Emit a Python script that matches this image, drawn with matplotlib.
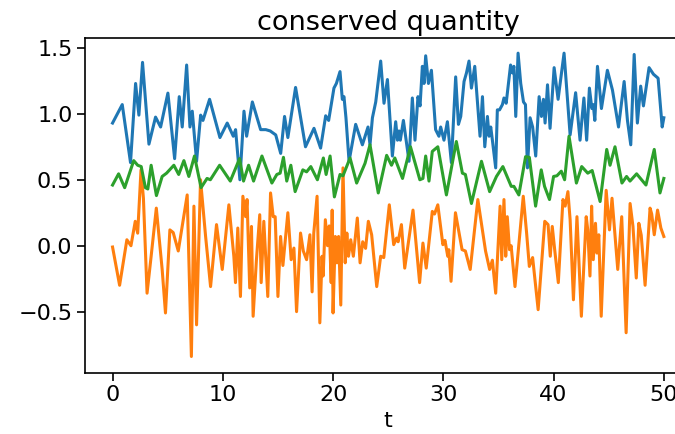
import matplotlib
matplotlib.use("Agg")
import matplotlib.pyplot as plt

# blue series (C0) at its turning points
t_blue = [0, 0.88, 1.63, 2.09, 2.39, 2.72, 3.3, 3.9, 4.36, 5.02, 5.63, 6.05, 6.32, 6.72,
          7.02, 7.23, 7.62, 7.99, 8.2, 8.8, 9.74, 10.4, 10.95, 11.16, 11.55, 11.92, 12.16,
          12.68, 13.43, 13.9, 14.3, 14.8, 15.25, 15.6, 15.9, 16.6, 17.5, 18.27, 18.87,
          19.33, 19.6, 20.08, 20.3, 20.63, 20.84, 20.99, 21.17, 21.45, 22.05, 22.66, 23.17,
          23.35, 23.57, 23.87, 24.32, 24.62, 24.93, 25.38, 25.68, 25.84, 25.98, 26.1, 26.38,
          26.89, 27.19, 27.43, 27.7, 27.89, 28.1, 28.25, 28.4, 28.65, 28.92, 29.3, 29.6,
          29.76, 30.06, 30.37, 30.73, 31.12, 31.37, 31.58, 31.88, 32.1, 32.33, 32.55, 32.85,
          33.33, 33.55, 33.76, 34.0, 34.15, 34.3, 34.45, 34.75, 34.9, 35.1, 35.36, 35.5,
          35.7, 36.1, 36.27, 36.4, 36.57, 36.78, 37.02, 37.27, 37.45, 37.63, 37.87, 38.1,
          38.38, 38.69, 38.9, 39.08, 39.23, 39.45, 39.68, 40.05, 40.41, 40.95, 41.5, 42.0,
          42.4, 42.75, 43.0, 43.25, 43.47, 43.6, 43.74, 43.98, 44.34, 44.88, 45.34, 45.89,
          46.4, 46.7, 47.0, 47.31, 47.6, 47.9, 48.15, 48.66, 49.06, 49.48, 49.85, 50.0]
blue = [0.93, 1.07, 0.63, 1.23, 0.99, 1.39, 0.77, 0.975, 0.90, 1.157, 0.66, 1.13, 0.90, 1.37,
        0.90, 1.02, 0.64, 0.99, 0.95, 1.11, 0.82, 0.93, 0.83, 0.88, 0.50, 1.02, 0.83,
        1.09, 0.88, 0.88, 0.87, 0.84, 0.70, 0.98, 0.82, 1.20, 0.75, 0.89, 0.74,
        0.985, 0.95, 1.195, 1.23, 1.32, 1.11, 1.13, 0.97, 0.64, 0.92, 0.765, 0.90,
        0.765, 0.97, 1.09, 1.40, 1.08, 1.26, 0.68, 0.94, 0.80, 0.87, 0.80, 0.95,
        0.64, 1.12, 0.80, 1.13, 1.06, 1.36, 1.23, 1.44, 1.23, 1.33, 0.88, 0.83,
        0.90, 0.80, 0.94, 0.63, 1.28, 0.92, 0.98, 1.245, 1.31, 1.40, 1.195, 1.36,
        0.83, 1.13, 0.75, 0.98, 0.83, 0.90, 0.80, 0.59, 1.03, 1.03, 1.07, 1.12,
        1.08, 1.37, 1.31, 1.36, 0.98, 1.46, 1.23, 1.09, 1.07, 0.59, 0.97, 0.90,
        0.68, 1.13, 0.98, 1.11, 0.93, 1.22, 0.89, 1.35, 1.11, 1.46, 0.84, 1.16,
        0.80, 1.12, 0.80, 1.195, 1.04, 1.07, 0.95, 1.36, 1.04, 1.33, 1.18, 0.90,
        1.245, 0.95, 0.765, 1.45, 0.93, 1.21, 1.06, 1.35, 1.30, 1.27, 0.90, 0.97]

# orange series (C1)
t_orange = [0, 0.64, 1.3, 1.67, 2.06, 2.28, 2.58, 2.8, 3.13, 3.5, 3.97, 4.5, 4.8, 5.2, 5.5,
            5.96, 6.77, 7.15, 7.38, 7.62, 7.98, 8.44, 8.89, 9.43, 9.95, 10.55, 11.0, 11.15,
            11.36, 11.6, 11.82, 12.07, 12.2, 12.44, 12.6, 12.75, 13.05, 13.35, 13.48, 13.72,
            14.08, 14.33, 14.57, 14.75, 15.0, 15.24, 15.45, 15.9, 16.2, 16.45, 16.69, 17.05,
            17.3, 17.6, 17.9, 18.1, 18.25, 18.55, 18.8, 19.0, 19.1, 19.3, 19.5, 19.65, 19.83,
            19.92, 20.0, 20.2, 20.35, 20.5, 20.7, 20.9, 21.1, 21.25, 21.4, 21.6, 21.84, 22.2,
            22.45, 22.69, 22.95, 23.2, 23.5, 23.96, 24.32, 24.6, 25.1, 25.5, 25.76, 25.9,
            26.2, 26.5, 27.25, 27.85, 28.15, 28.45, 29.0, 29.2, 29.5, 29.96, 30.15, 30.4,
            30.5, 30.7, 31.1, 31.7, 32.0, 32.44, 33.13, 33.83, 34.2, 34.45, 34.75, 35.15,
            35.3, 35.5, 35.66, 35.8, 36.0, 36.15, 36.5, 37.25, 37.55, 37.8, 38.1, 38.6, 39.2,
            39.5, 39.7, 39.88, 40.1, 40.43, 40.85, 41.05, 41.3, 41.5, 41.8, 42.12, 42.52,
            42.96, 43.1, 43.3, 43.45, 43.6, 43.8, 43.93, 44.1, 44.32, 44.77, 45.07, 45.3,
            45.82, 46.18, 46.58, 46.94, 47.2, 47.5, 47.73, 47.95, 48.3, 48.75, 48.9, 49.13,
            49.43, 49.73, 50.0]
orange = [-0.01, -0.30, 0.045, 0.0, 0.185, 0.095, 0.575, 0.36, -0.36, -0.08, 0.285, -0.18,
          -0.51, 0.12, 0.10, -0.04, 0.385, -0.84, 0.30, -0.60, 0.50, 0.07, -0.31, 0.16,
          -0.18, 0.31, -0.08, -0.28, 0.134, -0.385, 0.375, 0.22, 0.35, -0.32, 0.146, -0.535,
          -0.106, 0.235, -0.28, 0.185, -0.385, 0.40, 0.22, 0.22, -0.385, 0.07, -0.15, 0.25,
          -0.106, -0.018, -0.50, 0.096, -0.04, -0.106, 0.083, -0.35, 0.096, 0.375, -0.585,
          -0.08, -0.23, 0.197, 0.0, 0.15, -0.28, 0.27, -0.51, 0.07, -0.13, 0.07, -0.45, 0.59,
          -0.13, 0.096, -0.08, 0.045, -0.08, 0.21, -0.13, 0.03, -0.02, 0.185, 0.083, -0.31,
          -0.08, -0.09, 0.31, 0.008, 0.058, 0.03, 0.16, -0.17, 0.27, -0.28, 0.02, -0.17,
          0.26, 0.24, 0.31, 0.008, 0.04, -0.08, -0.03, -0.27, 0.25, -0.03, -0.04, -0.18,
          0.35, -0.04, -0.18, -0.11, -0.36, 0.30, -0.106, 0.35, -0.08, 0.22, -0.03, 0.0,
          -0.31, 0.375, 0.10, -0.157, -0.09, -0.485, 0.185, 0.16, -0.08, 0.146, -0.03,
          -0.28, 0.35, 0.30, 0.41, 0.197, -0.41, 0.22, -0.535, 0.22, 0.12, -0.23, 0.30,
          -0.106, 0.17, -0.056, 0.083, -0.535, 0.42, 0.12, 0.36, -0.18, 0.22, -0.66, 0.32,
          0.146, -0.245, 0.17, 0.08, -0.30, 0.285, 0.24, 0.083, 0.27, 0.134, 0.07]

# green series (C2)
t_green = [0, 0.55, 1.1, 1.92, 2.28, 2.6, 2.98, 3.2, 3.5, 3.98, 4.5, 4.9, 5.56, 6.0, 6.47,
           6.92, 7.43, 8.03, 8.57, 8.87, 9.71, 10.68, 11.52, 11.88, 12.34, 12.79, 13.55,
           14.45, 14.9, 15.2, 15.5, 15.8, 16.17, 16.56, 17.26, 17.6, 17.98, 18.58, 19.12,
           19.37, 19.73, 20.12, 20.63, 20.9, 21.54, 22.14, 22.9, 23.35, 24.1, 24.86, 25.3,
           25.6, 26.3, 27.02, 27.87, 28.15, 28.4, 28.7, 29.0, 29.5, 30.28, 31.18, 31.73,
           32.0, 32.55, 33.46, 34.2, 34.82, 35.4, 36.16, 36.4, 36.85, 37.46, 37.8, 38.37,
           38.88, 39.18, 39.63, 40.0, 40.3, 40.7, 41.0, 41.4, 42.07, 42.55, 43.1, 43.5,
           44.22, 44.82, 45.12, 45.57, 46.2, 46.62, 46.93, 47.53, 48.38, 49.13, 49.65, 50.0]
green = [0.46, 0.545, 0.44, 0.645, 0.61, 0.60, 0.44, 0.43, 0.61, 0.38, 0.525, 0.55, 0.61,
         0.54, 0.645, 0.525, 0.68, 0.44, 0.51, 0.50, 0.61, 0.49, 0.66, 0.49, 0.61, 0.49,
         0.68, 0.475, 0.54, 0.55, 0.67, 0.49, 0.61, 0.41, 0.575, 0.56, 0.60, 0.50, 0.665,
         0.54, 0.68, 0.37, 0.54, 0.53, 0.665, 0.475, 0.625, 0.765, 0.40, 0.685, 0.61,
         0.665, 0.51, 0.75, 0.50, 0.51, 0.68, 0.49, 0.715, 0.75, 0.385, 0.79, 0.55,
         0.54, 0.32, 0.64, 0.41, 0.525, 0.60, 0.45, 0.45, 0.385, 0.675, 0.67, 0.30,
         0.575, 0.45, 0.35, 0.525, 0.53, 0.565, 0.50, 0.83, 0.475, 0.60, 0.55, 0.57,
         0.335, 0.73, 0.61, 0.75, 0.475, 0.525, 0.49, 0.545, 0.46, 0.73, 0.40, 0.51]

fig = plt.figure(figsize=(6.75, 4.34), dpi=100)
# the reference is cropped on the right, so the axes run past the figure edge
ax = fig.add_axes([0.1259, 0.1406, 0.8984, 0.7719])

ax.plot(t_blue, blue, color="C0", lw=2.2)
ax.plot(t_orange, orange, color="C1", lw=2.2)
ax.plot(t_green, green, color="C2", lw=2.2)

ax.set_xlim(-2.5, 52.5)
ax.set_ylim(-0.965, 1.575)
ax.set_xticks([0, 10, 20, 30, 40, 50])
ax.set_yticks([-0.5, 0.0, 0.5, 1.0, 1.5])
ax.tick_params(labelsize=16, length=5.5, width=1.2)
for s in ax.spines.values():
    s.set_linewidth(1.2)

ax.set_title("conserved quantity", fontsize=19.5)
ax.set_xlabel("t", fontsize=16)

fig.savefig("out.png", dpi=100)
